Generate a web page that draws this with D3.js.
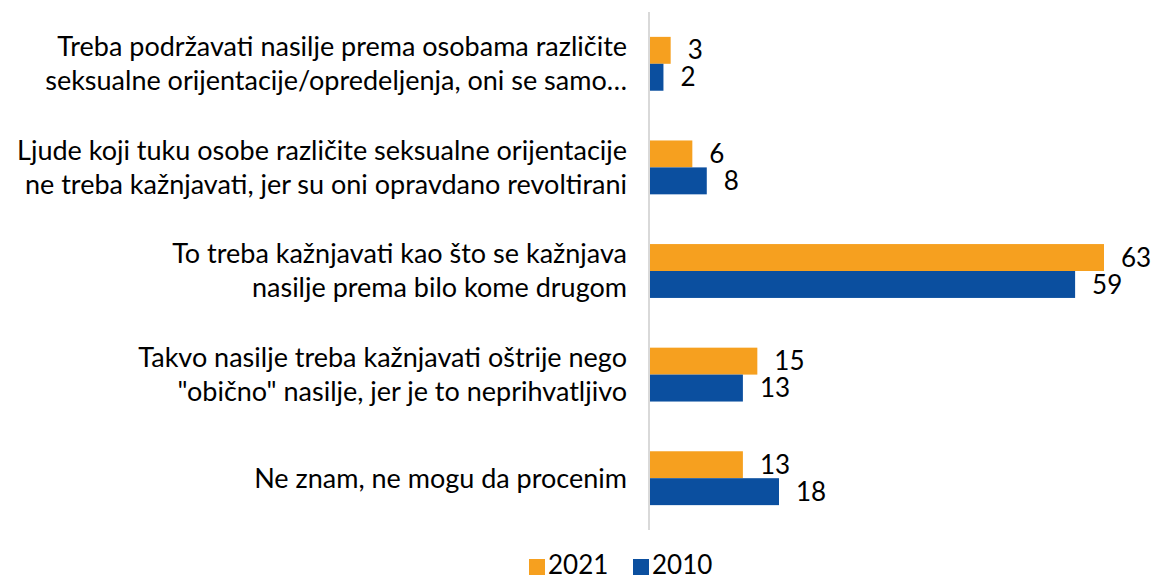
<!DOCTYPE html>
<html>
<head>
<meta charset="utf-8">
<script src="https://cdn.jsdelivr.net/npm/d3@7"></script>
<style>
  body { margin: 0; background: #fff; }
  svg { font-family: Lato, "Open Sans", sans-serif; }
</style>
</head>
<body>
<script>
const categories = [
  ['Treba podržavati nasilje prema osobama različite', 'seksualne orijentacije/opredeljenja, oni se samo…'],
  ['Ljude koji tuku osobe različite seksualne orijentacije', 'ne treba kažnjavati, jer su oni opravdano revoltirani'],
  ['To treba kažnjavati kao što se kažnjava', 'nasilje prema bilo kome drugom'],
  ['Takvo nasilje treba kažnjavati oštrije nego', '"obično" nasilje, jer je to neprihvatljivo'],
  ['Ne znam, ne mogu da procenim']
];
const seriesNames = ['2021', '2010'];
const values2021 = [3, 6, 63, 15, 13];
const values2010 = [2, 8, 59, 13, 18];
const colors = ['#F6A01F', '#0B4F9F'];

const W = 1152, H = 579;
const margin = { l: 649, r: 48, t: 12, b: 49 };

const svg = d3.select('body').append('svg')
  .attr('width', W).attr('height', H);

const rows = categories.map((c, i) => ({ label: c, vals: [values2021[i], values2010[i]] }));

const y = d3.scaleBand()
  .domain(d3.range(rows.length))
  .range([margin.t, H - margin.b])
  .paddingInner(0.48).paddingOuter(0.24);

const ySub = d3.scaleBand()
  .domain([0, 1])
  .range([0, y.bandwidth()]);

const x = d3.scaleLinear()
  .domain([0, 63])
  .range([margin.l, 1104]);

// axis line
svg.append('line')
  .attr('x1', x(0)).attr('x2', x(0))
  .attr('y1', margin.t).attr('y2', H - margin.b)
  .attr('stroke', '#d9d9d9').attr('stroke-width', 2);

const g = svg.selectAll('.row').data(rows).enter().append('g')
  .attr('class', 'row')
  .attr('transform', (d, i) => `translate(0,${y(i)})`);

g.selectAll('rect').data(d => d.vals).enter().append('rect')
  .attr('x', x(0) + 1)
  .attr('y', (d, j) => ySub(j))
  .attr('width', d => x(d) - x(0) - 1)
  .attr('height', ySub.bandwidth())
  .attr('fill', (d, j) => colors[j]);

g.selectAll('.val').data(d => d.vals).enter().append('text')
  .attr('class', 'val')
  .attr('x', d => x(d) + 17)
  .attr('y', (d, j) => ySub(j) + ySub.bandwidth() / 2)
  .attr('dy', '0.35em')
  .style('font-size', '26px')
  .attr('fill', '#000')
  .text(d => d);

// category labels
g.each(function(d) {
  const n = d.label.length;
  const lineH = 34;
  const t = d3.select(this).append('text')
    .attr('text-anchor', 'end')
    .style('font-size', '27px')
    .attr('fill', '#000');
  d.label.forEach((line, k) => {
    t.append('tspan')
      .attr('x', 627)
      .attr('y', y.bandwidth() / 2 + (k - (n - 1) / 2) * lineH)
      .attr('dy', '0.35em')
      .text(line);
  });
});

// legend (baseline at 574)
const legend = svg.append('g').attr('transform', 'translate(0,574)');
const legX = [529, 633];
seriesNames.forEach((s, i) => {
  legend.append('rect')
    .attr('x', legX[i]).attr('y', -15)
    .attr('width', 16).attr('height', 16)
    .attr('fill', colors[i]);
  legend.append('text')
    .attr('x', legX[i] + 19).attr('y', 0)
    .style('font-size', '26px')
    .text(s);
});
</script>
</body>
</html>
